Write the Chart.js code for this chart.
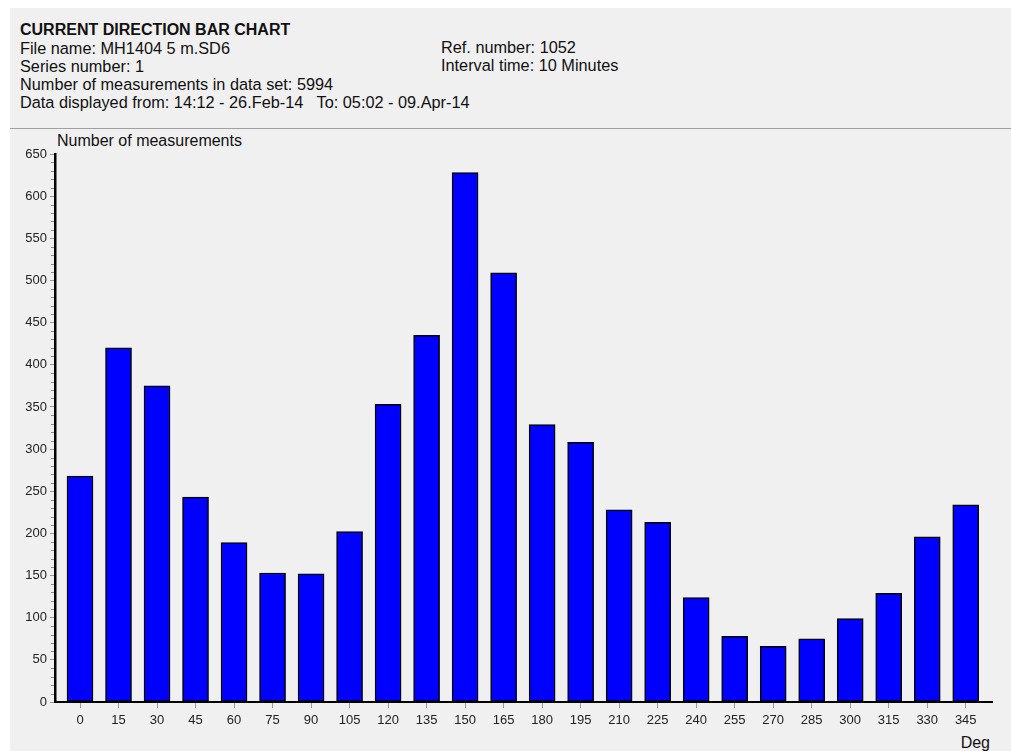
<!DOCTYPE html>
<html>
<head>
<meta charset="utf-8">
<script src="https://cdn.jsdelivr.net/npm/chart.js@4"></script>
<style>
  html, body { margin: 0; padding: 0; background: #fff; }
  body { width: 1011px; height: 751px; position: relative; overflow: hidden; font-family: "Liberation Sans", Arial, sans-serif; color: #111; }
  #panel { position: absolute; left: 10px; top: 8px; width: 1001px; height: 743px; background: #f0f0f0; }
  .hdr { position: absolute; font-size: 16.3px; line-height: 18px; white-space: pre; }
  .hdr b { font-size: 16px; }
  #sep { position: absolute; left: 10px; top: 128px; width: 1001px; height: 1px; background: #a0a0a0; }
  #wrap { position: absolute; left: 10px; top: 129px; width: 1001px; height: 622px; }
  .lbl { position: absolute; font-size: 16px; line-height: 18px; white-space: pre; }
</style>
</head>
<body>
<div id="panel"></div>
<div class="hdr" style="left:20px; top:20px;"><b>CURRENT DIRECTION BAR CHART</b>
File name: MH1404 5 m.SD6
Series number: 1
Number of measurements in data set: 5994
Data displayed from: 14:12 - 26.Feb-14   To: 05:02 - 09.Apr-14</div>
<div class="hdr" style="left:441px; top:38px;">Ref. number: 1052
Interval time: 10 Minutes</div>
<div id="sep"></div>
<div class="lbl" style="left:57px; top:132px;">Number of measurements</div>
<div class="lbl" style="right:21px; top:734px;">Deg</div>
<div id="wrap"><canvas id="myChart" width="1001" height="622"></canvas></div>
<script>
// current direction, degrees
const directions = [0, 15, 30, 45, 60, 75, 90, 105, 120, 135, 150, 165,
  180, 195, 210, 225, 240, 255, 270, 285, 300, 315, 330, 345];
// number of measurements per direction
const counts = [268, 420, 375, 243, 189, 153, 152, 202, 353, 435, 628, 509,
  329, 308, 228, 213, 124, 78, 66, 75, 99, 129, 196, 234];

const minorTicks = {
  id: 'minorTicks',
  afterDraw(chart) {
    const y = chart.scales.y;
    const c = chart.ctx;
    const left = chart.chartArea.left;
    c.save();
    c.strokeStyle = '#8a8a8a';
    c.lineWidth = 1;
    for (let v = 10; v < 650; v += 10) {
      if (v % 50 === 0) continue;
      const py = Math.round(y.getPixelForValue(v)) + 0.5;
      c.beginPath();
      c.moveTo(left - 4, py);
      c.lineTo(left - 1, py);
      c.stroke();
    }
    c.restore();
  }
};

const ctx = document.getElementById('myChart');

new Chart(ctx, {
  type: 'bar',
  data: {
    datasets: [{
      data: directions.map((d, i) => ({ x: d, y: counts[i] })),
      backgroundColor: '#0000ff',
      borderColor: '#000000',
      borderWidth: 1.5,
      borderSkipped: false,
      barThickness: 26,
    }]
  },
  plugins: [minorTicks],
  options: {
    responsive: false,
    animation: false,
    layout: { padding: { left: 0, right: 19, top: 25, bottom: 0 } },
    plugins: { legend: { display: false }, tooltip: { enabled: false } },
    scales: {
      x: {
        type: 'linear',
        offset: false,
        min: -9.74,
        max: 355.23,
        afterBuildTicks: s => { s.ticks = directions.map(d => ({ value: d })); },
        afterFit: s => { s.height = 49; },
        grid: { drawOnChartArea: false, tickLength: 6, color: '#999', offset: false },
        border: { color: '#000', width: 2 },
        ticks: { autoSkip: false, maxRotation: 0, padding: 5, color: '#222',
          font: { family: 'Liberation Sans', size: 13 } },
      },
      y: {
        min: 0,
        max: 650,
        afterFit: s => { s.width = 45; },
        grid: { drawOnChartArea: false, tickLength: 5, color: '#999' },
        border: { color: '#000', width: 2.5 },
        ticks: { stepSize: 50, padding: 3, color: '#222',
          font: { family: 'Liberation Sans', size: 13 } },
      }
    }
  }
});
</script>
</body>
</html>
